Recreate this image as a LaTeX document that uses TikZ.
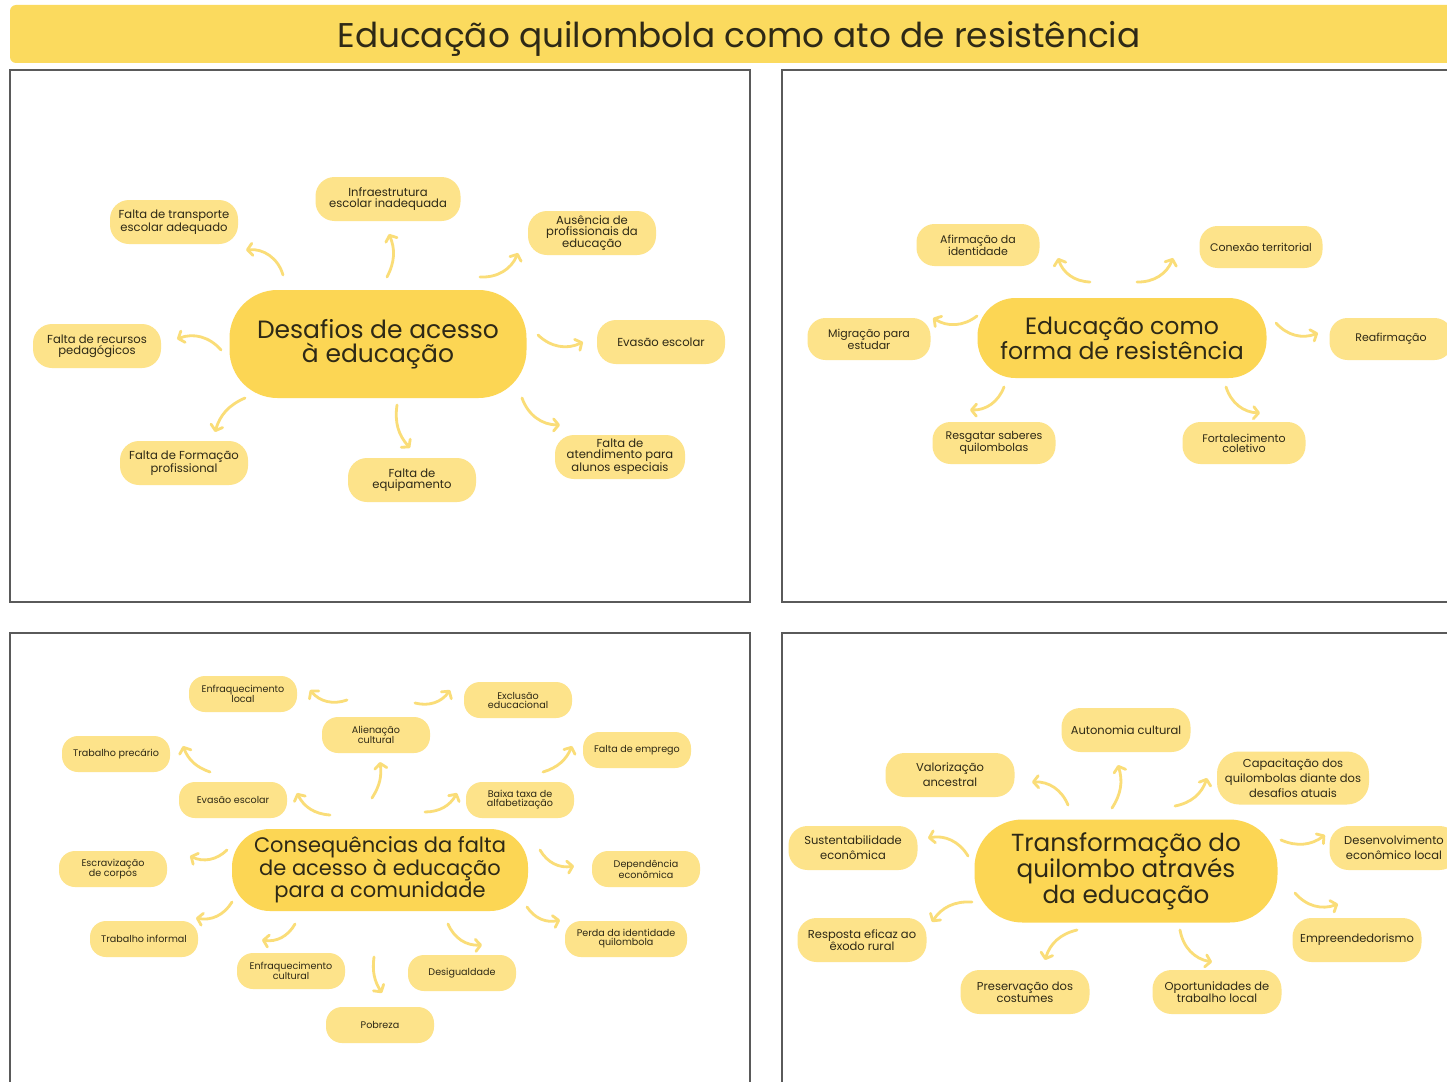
\documentclass[tikz,border=0pt]{standalone}
\usepackage{fontspec}
\setmainfont{Poppins}
\usetikzlibrary{arrows.meta}
\definecolor{hdr}{HTML}{FBDA5E}
\definecolor{hubc}{HTML}{FCD654}
\definecolor{leafc}{HTML}{FDE38A}
\definecolor{arrc}{HTML}{FADD78}
\definecolor{txt}{HTML}{2E2916}
\definecolor{framec}{HTML}{5A5A5A}
\newcommand{\carr}[4]{\coordinate (#1s) at (#2); \coordinate (#1e) at (#3); \draw[arr] (#1s) to[bend right=#4] (#1e);}
\tikzset{
  arr/.style={draw=arrc, line width=2.8pt, line cap=round, -{Straight Barb[length=5pt,width=12pt,round]}},
  panel/.style={draw=framec, line width=1.5pt},
  hub/.style={fill=hubc, align=center, inner sep=0pt, text=txt},
  leaf/.style={fill=leafc, align=center, inner sep=0pt, text=txt},
  leafA/.style={leaf, minimum width=128pt, minimum height=44pt, rounded corners=19pt, font=\fontsize{11.6}{11}\selectfont},
  leafB/.style={leaf, minimum width=123pt, minimum height=42pt, rounded corners=18pt, font=\fontsize{11}{10}\selectfont},
  leafC/.style={leaf, minimum width=108pt, minimum height=36pt, rounded corners=16pt, font=\fontsize{9.6}{9}\selectfont},
  leafD/.style={leaf, minimum width=129pt, minimum height=44pt, rounded corners=19pt, font=\fontsize{11.5}{15}\selectfont},
  tightD/.style={font=\fontsize{11.5}{10.5}\selectfont},
}
\begin{document}
\begin{tikzpicture}[x=1pt,y=-1pt]
\path[use as bounding box] (0,0) rectangle (1447,1081);
\clip (0,0) rectangle (1447,1081);
\fill[white] (0,0) rectangle (1447,1081);
% header
\fill[hdr, rounded corners=6pt] (10,5) rectangle (1470,63);
\node[text=txt, font=\fontsize{34.3}{40}\selectfont, inner sep=0pt] (title) at (739,39) {Educação quilombola como ato de resistência};
% panels
\draw[panel] (10,70) rectangle (750,602);
\draw[panel] (782,70) rectangle (1470,602);
\draw[panel] (10,633) rectangle (750,1100);
\draw[panel] (782,633) rectangle (1470,1100);

% ---------- top-left ----------
\node[hub, minimum width=297pt, minimum height=108pt, rounded corners=48pt, font=\fontsize{25}{24}\selectfont] (tlc) at (378,344) {Desafios de acesso\\à educação};
\node[leafA, minimum width=145pt] (tl1) at (388,199) {Infraestrutura\\escolar inadequada};
\node[leafA] (tl2) at (174,222) {Falta de transporte\\escolar adequado};
\node[leafA] (tl3) at (592,233) {Ausência de\\profissionais da\\educação};
\node[leafA] (tl4) at (97,346) {Falta de recursos\\pedagógicos};
\node[leafA] (tl5) at (661,342) {Evasão escolar};
\node[leafA] (tl6) at (184,463) {Falta de Formação\\profissional};
\node[leafA] (tl7) at (412,480) {Falta de\\equipamento};
\node[leafA, minimum width=130pt] (tl8) at (620,457) {Falta de\\atendimento para\\alunos especiais};
\carr{ta1}{283,275}{246,250}{40}
\carr{ta2}{387,277}{389,234}{25}
\carr{ta3}{480,277}{518,253}{35}
\carr{ta4}{221,350}{177,339}{35}
\carr{ta5}{538,335}{583,342}{35}
\carr{ta6}{245,398}{215,432}{25}
\carr{ta7}{397,405}{410,448}{25}
\carr{ta8}{522,398}{560,425}{35}

% ---------- top-right ----------
\node[hub, minimum width=289pt, minimum height=80pt, rounded corners=38pt, font=\fontsize{23.6}{22}\selectfont] (trc) at (1122,338) {Educação como\\forma de resistência};
\node[leafB] (tr1) at (978,245) {Afirmação da\\identidade};
\node[leafB] (tr2) at (1261,247) {Conexão territorial};
\node[leafB] (tr3) at (869,339) {Migração para\\estudar};
\node[leafB] (tr4) at (1391,339) {Reafirmação};
\node[leafB] (tr5) at (994,443) {Resgatar saberes\\quilombolas};
\node[leafB] (tr6) at (1244,443) {Fortalecimento\\coletivo};
\carr{ra1}{1090,282}{1058,258}{-35}
\carr{ra2}{1137,282}{1173,258}{35}
\carr{ra3}{977,316}{933,318}{-35}
\carr{ra4}{1276,323}{1318,333}{35}
\carr{ra5}{1004,387}{970,410}{-35}
\carr{ra6}{1226,387}{1260,413}{35}

% ---------- bottom-left ----------
\node[hub, minimum width=296pt, minimum height=82pt, rounded corners=38pt, font=\fontsize{21}{19}\selectfont] (blc) at (380,870) {Consequências da falta\\de acesso à educação\\para a comunidade};
\node[leafC] (bl1) at (243,694) {Enfraquecimento\\local};
\node[leafC] (bl2) at (518,700) {Exclusão\\educacional};
\node[leafC] (bl3) at (376,735) {Alienação\\cultural};
\node[leafC] (bl4) at (116,754) {Trabalho precário};
\node[leafC] (bl5) at (637,750) {Falta de emprego};
\node[leafC] (bl6) at (233,800) {Evasão escolar};
\node[leafC] (bl7) at (520,800) {Baixa taxa de\\alfabetização};
\node[leafC] (bl8) at (113,869) {Escravização\\de corpos};
\node[leafC] (bl9) at (646,869) {Dependência\\econômica};
\node[leafC] (bl10) at (144,939) {Trabalho informal};
\node[leafC, minimum width=122pt] (bl11) at (626,939) {Perda da identidade\\quilombola};
\node[leafC] (bl12) at (291,971) {Enfraquecimento\\cultural};
\node[leafC] (bl13) at (462,973) {Desigualdade};
\node[leafC] (bl14) at (380,1025) {Pobreza};
\carr{ba1}{347,700}{310,690}{-35}
\carr{ba2}{415,703}{450,690}{35}
\carr{ba3}{372,798}{380,762}{20}
\carr{ba4}{210,772}{183,746}{-25}
\carr{ba5}{330,815}{297,793}{-30}
\carr{ba6}{425,812}{457,793}{30}
\carr{ba7}{543,772}{572,746}{25}
\carr{ba8}{227,850}{190,856}{-35}
\carr{ba9}{540,850}{574,866}{35}
\carr{ba10}{232,902}{196,918}{-35}
\carr{ba11}{527,907}{560,920}{35}
\carr{ba12}{295,924}{262,940}{-35}
\carr{ba13}{448,924}{482,945}{35}
\carr{ba14}{374,957}{382,993}{20}

% ---------- bottom-right ----------
\node[hub, minimum width=303pt, minimum height=103pt, rounded corners=48pt, font=\fontsize{24.7}{23}\selectfont] (brc) at (1126,871) {Transformação do\\quilombo através\\da educação};
\node[leafD] (br1) at (1126,730) {Autonomia cultural};
\node[leafD] (br2) at (950,775) {Valorização\\ancestral};
\node[leafD, minimum width=152pt, minimum height=53pt, rounded corners=22pt] (br3) at (1293,778) {Capacitação dos\\quilombolas diante dos\\desafios atuais};
\node[leafD] (br4) at (853,848) {Sustentabilidade\\econômica};
\node[leafD] (br5) at (1394,848) {Desenvolvimento\\econômico local};
\node[leafD, tightD] (br6) at (862,940) {Resposta eficaz ao\\êxodo rural};
\node[leafD] (br7) at (1357,940) {Empreendedorismo};
\node[leafD, tightD] (br8) at (1025,992) {Preservação dos\\costumes};
\node[leafD, tightD] (br9) at (1217,992) {Oportunidades de\\trabalho local};
\carr{qa1}{1112,808}{1118,765}{25}
\carr{qa2}{1068,805}{1032,782}{35}
\carr{qa3}{1175,806}{1207,778}{30}
\carr{qa4}{968,856}{928,838}{35}
\carr{qa5}{1281,840}{1325,835}{30}
\carr{qa6}{972,902}{932,922}{30}
\carr{qa7}{1295,893}{1338,904}{35}
\carr{qa8}{1077,930}{1045,960}{30}
\carr{qa9}{1180,930}{1212,962}{35}
\end{tikzpicture}
\end{document}
